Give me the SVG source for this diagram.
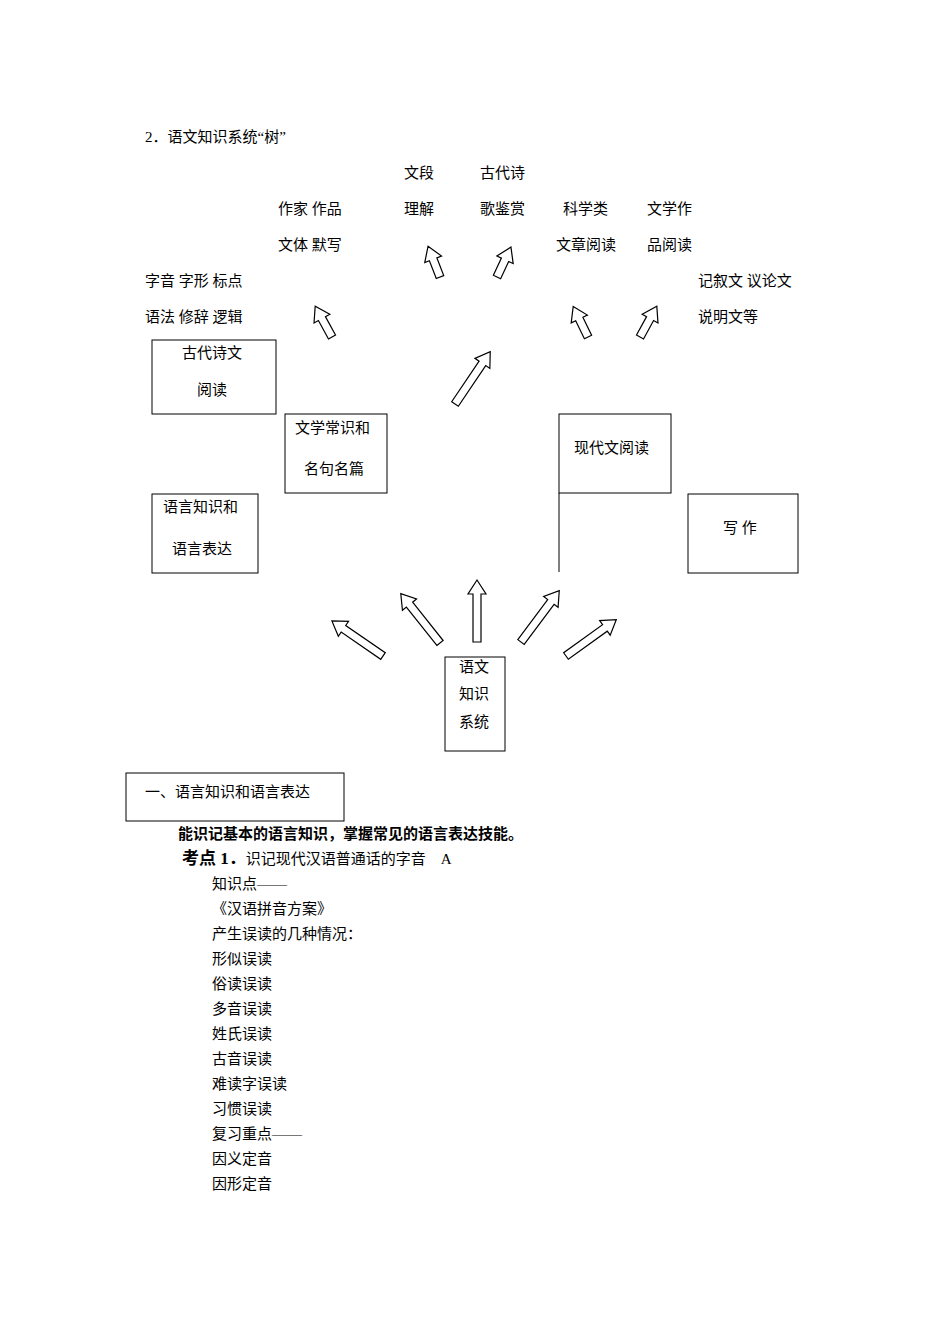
<svg xmlns="http://www.w3.org/2000/svg" width="950" height="1344" viewBox="0 0 950 1344">
<style>
text{font-family:"Liberation Serif","Noto Sans CJK SC",serif;font-size:15px;fill:#000}
.b{fill:#fff;stroke:#000;stroke-width:1}
.a{fill:#fff;stroke:#000;stroke-width:1.2}
.k{font-weight:bold}
</style>
<rect width="950" height="1344" fill="#fff"/>
<text x="145" y="142">2．语文知识系统“树”</text>
<g id="labels">
<text x="404" y="178">文段</text><text x="480" y="178">古代诗</text>
<text x="278" y="214">作家 作品</text><text x="404" y="214">理解</text><text x="480" y="214">歌鉴赏</text><text x="563" y="214">科学类</text><text x="647" y="214">文学作</text>
<text x="278" y="250">文体 默写</text><text x="556" y="250">文章阅读</text><text x="647" y="250">品阅读</text>
<text x="145" y="286">字音 字形 标点</text><text x="698" y="286">记叙文 议论文</text>
<text x="145" y="322">语法 修辞 逻辑</text><text x="698" y="322">说明文等</text>
</g>
<g id="n1"><rect class="b" x="152" y="340" width="124" height="74"/><text x="182" y="358">古代诗文</text><text x="197" y="395">阅读</text></g>
<g id="n2"><rect class="b" x="285" y="414" width="102" height="79"/><text x="295" y="433">文学常识和</text><text x="304" y="474">名句名篇</text></g>
<g id="n3"><rect class="b" x="152" y="494" width="106" height="79"/><text x="163" y="512">语言知识和</text><text x="172" y="554">语言表达</text></g>
<g id="n4"><rect class="b" x="559" y="414" width="112" height="79"/><text x="574" y="453">现代文阅读</text><line x1="559" y1="493" x2="559" y2="572" stroke="#000"/></g>
<g id="n5"><rect class="b" x="688" y="494" width="110" height="79"/><text x="723" y="533">写 作</text></g>
<g id="n6"><rect class="b" x="445" y="657" width="60" height="94"/><text x="459" y="672">语文</text><text x="459" y="699">知识</text><text x="459" y="727">系统</text></g>
<g id="connectors">
<polygon class="a" transform="translate(383,656) rotate(-55.5)" points="-4,0 4,0 4,-48 9,-48 0,-62 -9,-48 -4,-48"/>
<polygon class="a" transform="translate(440,643) rotate(-38.5)" points="-4,0 4,0 4,-49 9,-49 0,-63 -9,-49 -4,-49"/>
<polygon class="a" transform="translate(477,642)" points="-4,0 4,0 4,-48 9,-48 0,-62 -9,-48 -4,-48"/>
<polygon class="a" transform="translate(521,642) rotate(36.7)" points="-4,0 4,0 4,-50 9,-50 0,-64 -9,-50 -4,-50"/>
<polygon class="a" transform="translate(566,656) rotate(54.2)" points="-4,0 4,0 4,-48 9,-48 0,-62 -9,-48 -4,-48"/>
<polygon class="a" transform="translate(332,337) rotate(-28.7)" points="-4,0 4,0 4,-21 9,-21 0,-35 -9,-21 -4,-21"/>
<polygon class="a" transform="translate(440,277) rotate(-21.2)" points="-4,0 4,0 4,-19 9,-19 0,-33 -9,-19 -4,-19"/>
<polygon class="a" transform="translate(497,277) rotate(25)" points="-4,0 4,0 4,-19 9,-19 0,-33 -9,-19 -4,-19"/>
<polygon class="a" transform="translate(455,404) rotate(34)" points="-4,0 4,0 4,-49 9,-49 0,-63 -9,-49 -4,-49"/>
<polygon class="a" transform="translate(588,337) rotate(-25.8)" points="-4,0 4,0 4,-20 9,-20 0,-34 -9,-20 -4,-20"/>
<polygon class="a" transform="translate(640,337) rotate(28.7)" points="-4,0 4,0 4,-21 9,-21 0,-35 -9,-21 -4,-21"/>
</g>
<g id="section"><rect class="b" x="126" y="773" width="218" height="48"/><text x="145" y="797">一、语言知识和语言表达</text></g>
<text x="178" y="839" class="k">能识记基本的语言知识，掌握常见的语言表达技能。</text>
<text x="182" y="864"><tspan class="k" font-size="17">考点 1．</tspan>识记现代汉语普通话的字音　A</text>
<g>
<text x="212" y="889">知识点——</text>
<text x="212" y="914">《汉语拼音方案》</text>
<text x="212" y="939">产生误读的几种情况：</text>
<text x="212" y="964">形似误读</text>
<text x="212" y="989">俗读误读</text>
<text x="212" y="1014">多音误读</text>
<text x="212" y="1039">姓氏误读</text>
<text x="212" y="1064">古音误读</text>
<text x="212" y="1089">难读字误读</text>
<text x="212" y="1114">习惯误读</text>
<text x="212" y="1139">复习重点——</text>
<text x="212" y="1164">因义定音</text>
<text x="212" y="1189">因形定音</text>
</g>
</svg>
